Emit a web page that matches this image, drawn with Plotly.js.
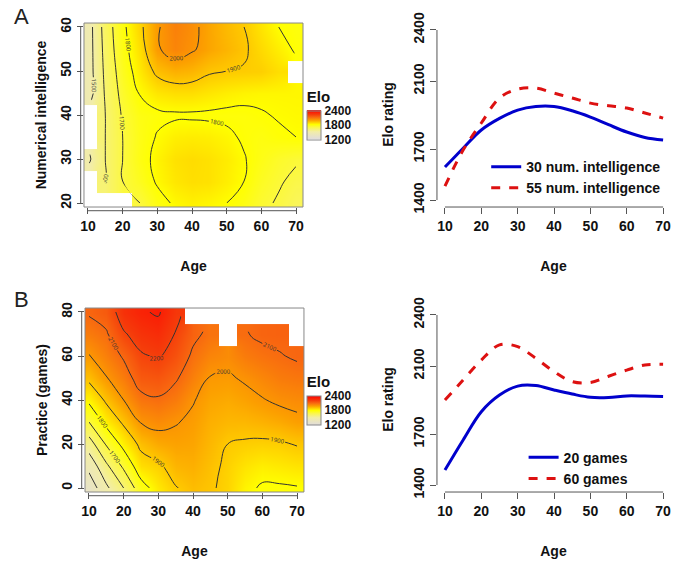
<!DOCTYPE html>
<html><head><meta charset="utf-8">
<script src="https://cdn.plot.ly/plotly-3.0.1.min.js"></script>
<style>body{margin:0;background:#fff}#c{width:680px;height:570px}</style>
</head><body><div id="c"></div>
<script>
// Panel A heatmap: Age x Numerical intelligence
const ageGrid = [10,15,20,25,30,35,40,45,50,55,60,65,70];
const numIntGrid = [20,25,30,35,40,45,50,55,60];
const eloA = [
 [null,null,null,1700,1770,1810,1825,1815,1800,1770,1720,1690,1650],
 [null,1600,1700,1750,1810,1845,1860,1855,1830,1800,1745,1710,1680],
 [1480,1600,1700,1770,1820,1855,1865,1855,1835,1805,1765,1730,1710],
 [null,1600,1700,1765,1805,1830,1835,1830,1815,1790,1775,1790,1800],
 [null,1600,1710,1770,1785,1790,1790,1788,1785,1785,1795,1805,1810],
 [1450,1610,1730,1805,1845,1860,1860,1845,1830,1820,1815,1815,1815],
 [1450,1620,1750,1840,1920,1950,1940,1910,1900,1895,1890,1860,null],
 [1450,1630,1770,1860,1990,2040,2010,1970,1940,1910,1870,1830,1790],
 [1450,1640,1780,1880,1990,2050,2020,1970,1930,1900,1850,1800,1780]
];
// Panel B heatmap: Age x Practice
const practiceGrid = [0,10,20,30,40,50,60,70,80];
const eloB = [
 [1330,1480,1600,1760,1840,1895,1925,1910,1880,1820,1790,1790,1795],
 [1430,1580,1720,1860,1885,1940,1950,1920,1885,1850,1830,1840,1850],
 [1550,1710,1830,1920,1960,1975,1970,1935,1900,1890,1885,1890,1905],
 [1700,1830,1915,2005,2025,2005,1985,1950,1935,1935,1945,1960,1980],
 [1820,1915,2000,2075,2090,2060,2005,1970,1960,1975,1995,2015,2025],
 [1920,1995,2060,2140,2150,2110,2050,1995,1990,2010,2035,2060,2070],
 [1995,2050,2110,2190,2210,2160,2085,2040,2025,2060,2080,2095,2110],
 [2060,2090,2190,2240,2260,2195,2120,2080,null,2095,2115,2120,null],
 [2110,2140,2250,2290,2310,2230,null,null,null,null,null,null,null]
];
// Line panels
const ageLine = [10,15,20,25,30,35,40,45,50,55,60,65,70];
const elo30num = [1594,1705,1812,1880,1929,1950,1950,1925,1888,1843,1800,1768,1753];
const elo55num = [1482,1694,1853,2000,2052,2058,2029,2000,1970,1955,1941,1912,1882];
const elo20games = [1488,1665,1831,1929,1982,1985,1959,1935,1916,1915,1924,1923,1920];
const elo60games = [1900,2018,2135,2224,2214,2145,2067,2008,2003,2040,2076,2106,2110];

const cs = [[0,'#e0dcdc'],[0.25,'#f2eda8'],[0.4,'#fbf74a'],[0.5,'#ffff00'],[0.55,'#ffdf00'],[0.65,'#fca000'],[0.75,'#f86a10'],[0.85,'#f53a0a'],[1,'#ff0000']];
const F = 'Liberation Sans, Arial, sans-serif';
const tickF = {family:F,size:14,color:'#111',weight:'bold'};
const titF = {family:F,size:14,color:'#111',weight:'bold'};

function heat(z,y,xa,ya,cy){
  return {type:'heatmap',x:ageGrid,y:y,z:z,xaxis:xa,yaxis:ya,zmin:1200,zmax:2400,colorscale:cs,zsmooth:'best',
    colorbar:{x:0.452,xanchor:'left',xpad:0,ypad:0,y:cy,yanchor:'middle',len:0.09,lenmode:'fraction',thickness:14,outlinewidth:1,outlinecolor:'#888',
      tickvals:[1200,1800,2400],ticks:'',tickfont:{family:F,size:12,color:'#111',weight:'bold'},title:{text:'Elo',side:'top',font:{family:F,size:15,weight:'bold',color:'#111'}}}};
}
function cont(z,y,xa,ya){
  return {type:'contour',x:ageGrid,y:y,z:z,xaxis:xa,yaxis:ya,showscale:false,hoverinfo:'skip',
    contours:{coloring:'lines',start:1400,end:2300,size:100,showlabels:true,labelfont:{size:6,color:'#333'}},
    line:{color:'#333',width:1,smoothing:1.3},colorscale:[[0,'#333'],[1,'#333']]};
}
const data = [
  heat(eloA,numIntGrid,'x','y',0.8), cont(eloA,numIntGrid,'x','y'),
  heat(eloB,practiceGrid,'x2','y2',0.3), cont(eloB,practiceGrid,'x2','y2'),
  {x:ageLine,y:elo30num,xaxis:'x3',yaxis:'y3',mode:'lines',name:'30 num. intelligence',line:{color:'#0000cc',width:3,shape:'spline'}},
  {x:ageLine,y:elo55num,xaxis:'x3',yaxis:'y3',mode:'lines',name:'55 num. intelligence',line:{color:'#dd1111',width:3,dash:'dash',shape:'spline'},legend:'legend'},
  {x:ageLine,y:elo20games,xaxis:'x4',yaxis:'y4',mode:'lines',name:'20 games',line:{color:'#0000cc',width:3,shape:'spline'},legend:'legend2'},
  {x:ageLine,y:elo60games,xaxis:'x4',yaxis:'y4',mode:'lines',name:'60 games',line:{color:'#dd1111',width:3,dash:'dash',shape:'spline'},legend:'legend2'}
];
function ax(dom,range,tv,title,extra){
  return Object.assign({domain:dom,range:range,tickvals:tv,ticks:'outside',ticklen:6,tickcolor:'#555',showgrid:false,zeroline:false,
    showline:false,tickfont:tickF,title:{text:title,font:titF}},extra||{});
}
const ages=[10,20,30,40,50,60,70];
const layout = {
  width:680,height:570,margin:{l:0,r:0,t:0,b:0},paper_bgcolor:'#fff',plot_bgcolor:'rgba(0,0,0,0)',
  xaxis:ax([0.1235,0.4456],[8.85,72],ages,'Age',{anchor:'y',title:{text:'Age',font:titF,standoff:28}}),
  yaxis:ax([0.6368,0.9596],[19.1,60.9],[20,30,40,50,60],'Numerical intelligence',{anchor:'x',tickangle:-90,title:{text:'Numerical intelligence',font:titF,standoff:8}}),
  xaxis2:ax([0.125,0.447],[8.85,72],ages,'Age',{anchor:'y2',title:{text:'Age',font:titF,standoff:28}}),
  yaxis2:ax([0.1368,0.4596],[-1.8,81.8],[0,20,40,60,80],'Practice (games)',{anchor:'x2',tickangle:-90,title:{text:'Practice (games)',font:titF,standoff:8}}),
  xaxis3:ax([0.6426,0.9853],[7.8,71.9],ages,'Age',{anchor:'y3',title:{text:'Age',font:titF,standoff:28}}),
  yaxis3:ax([0.6368,0.9614],[1359,2447],[1400,1700,2100,2400],'Elo rating',{anchor:'x3',tickangle:-90,title:{text:'Elo rating',font:titF,standoff:14}}),
  xaxis4:ax([0.6426,0.9853],[7.8,71.9],ages,'Age',{anchor:'y4',title:{text:'Age',font:titF,standoff:28}}),
  yaxis4:ax([0.1368,0.4614],[1359,2447],[1400,1700,2100,2400],'Elo rating',{anchor:'x4',tickangle:-90,title:{text:'Elo rating',font:titF,standoff:14}}),
  legend:{x:0.715,y:0.735,xanchor:'left',yanchor:'top',bgcolor:'rgba(0,0,0,0)',font:{family:F,size:14,weight:'bold',color:'#111'},tracegroupgap:0},
  legend2:{x:0.77,y:0.225,xanchor:'left',yanchor:'top',bgcolor:'rgba(0,0,0,0)',font:{family:F,size:14,weight:'bold',color:'#111'}},
  shapes:[
    {type:'rect',xref:'x domain',yref:'y domain',x0:0,x1:1,y0:0,y1:1,line:{color:'#888',width:1}},
    {type:'rect',xref:'x2 domain',yref:'y2 domain',x0:0,x1:1,y0:0,y1:1,line:{color:'#888',width:1}},
    {type:'line',xref:'x',yref:'y domain',x0:10,x1:70,y0:-0.02,y1:-0.02,line:{color:'#555',width:1}},
    {type:'line',xref:'x domain',yref:'y',x0:-0.015,x1:-0.015,y0:20,y1:60,line:{color:'#555',width:1}},
    {type:'line',xref:'x2',yref:'y2 domain',x0:10,x1:70,y0:-0.02,y1:-0.02,line:{color:'#555',width:1}},
    {type:'line',xref:'x2 domain',yref:'y2',x0:-0.015,x1:-0.015,y0:0,y1:80,line:{color:'#555',width:1}},
    {type:'line',xref:'x3',yref:'y3 domain',x0:10,x1:70,y0:0,y1:0,line:{color:'#555',width:1}},
    {type:'line',xref:'x3 domain',yref:'y3',x0:0,x1:0,y0:1400,y1:2400,line:{color:'#555',width:1}},
    {type:'line',xref:'x4',yref:'y4 domain',x0:10,x1:70,y0:0,y1:0,line:{color:'#555',width:1}},
    {type:'line',xref:'x4 domain',yref:'y4',x0:0,x1:0,y0:1400,y1:2400,line:{color:'#555',width:1}}
  ],
  annotations:[
    {text:'A',xref:'paper',yref:'paper',x:12/680,y:1-2/570,xanchor:'left',yanchor:'top',showarrow:false,font:{family:F,size:22,color:'#222'}},
    {text:'B',xref:'paper',yref:'paper',x:12/680,y:1-285/570,xanchor:'left',yanchor:'top',showarrow:false,font:{family:F,size:22,color:'#222'}}
  ]
};
Plotly.newPlot('c',data,layout,{displayModeBar:false,staticPlot:true});
</script></body></html>
